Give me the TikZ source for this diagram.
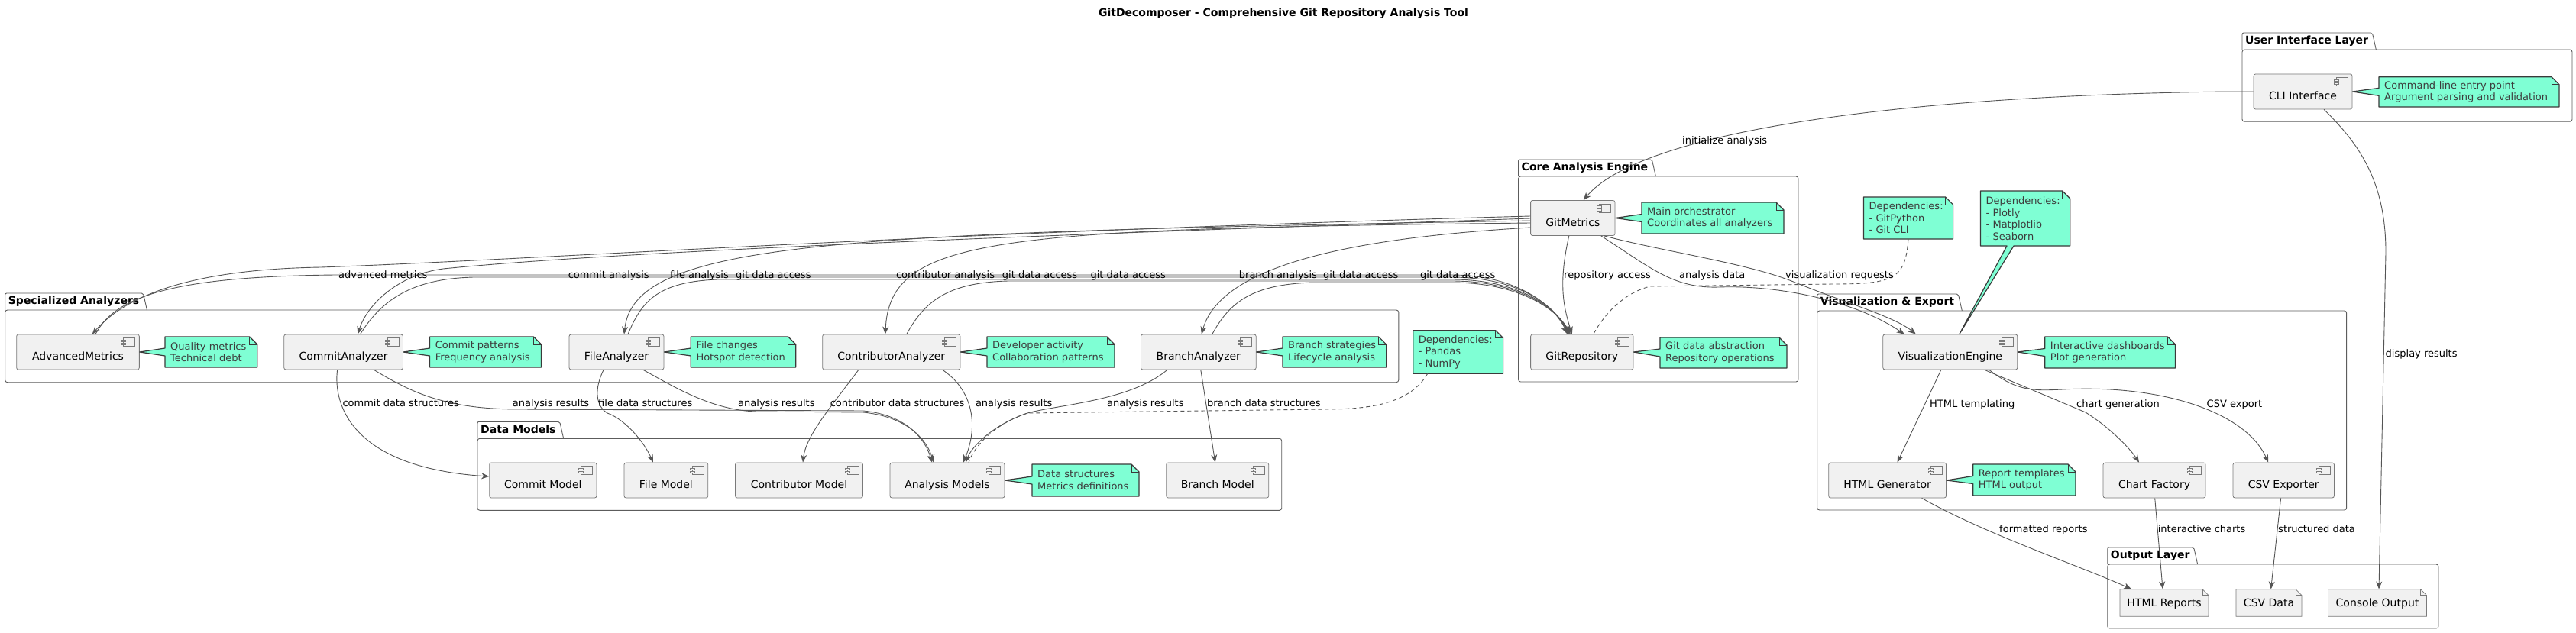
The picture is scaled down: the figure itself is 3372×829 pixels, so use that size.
\documentclass[tikz,border=0pt]{standalone}
\usepackage{fontspec}
\setmainfont{DejaVu Sans}
\usetikzlibrary{arrows.meta,calc}
\definecolor{compfill}{HTML}{F1F1F1}
\definecolor{compdraw}{HTML}{7A7A7A}
\definecolor{pkgdraw}{HTML}{5C5C5C}
\definecolor{notefill}{HTML}{7FFFD4}
\definecolor{notedraw}{HTML}{3A3A3A}
\definecolor{notetextc}{HTML}{3C3C3C}
\definecolor{linec}{HTML}{555555}
\tikzset{
  comp/.style={draw=compdraw, fill=compfill, line width=0.8pt, rounded corners=2.5pt, inner sep=0pt, font=\fontsize{14}{16}\selectfont, text height=21pt, text depth=0pt},
  fileshape/.style={draw=compdraw, fill=compfill, line width=0.8pt},
  filetext/.style={inner sep=0pt, font=\fontsize{14}{16}\selectfont, text height=10.5pt, text depth=0pt},
  icon/.style={draw=compdraw, fill=compfill, line width=0.6pt},
  pkglabel/.style={anchor=west, inner sep=0pt, font=\bfseries\fontsize{14}{16}\selectfont, text height=10.5pt, text depth=3pt},
  pkgline/.style={draw=pkgdraw, line width=0.9pt},
  noteshape/.style={draw=notedraw, fill=notefill, line width=1.2pt, line join=round},
  notefold/.style={draw=notedraw, line width=1pt},
  notetext/.style={anchor=west, align=left, inner sep=0pt, text=notetextc, font=\fontsize{13}{15.5}\selectfont},
  edge/.style={draw=linec, line width=0.9pt, -{Stealth[length=10pt,width=8pt,inset=3pt]}},
  dedge/.style={draw=linec, line width=0.9pt, dash pattern=on 5pt off 4pt},
  elabel/.style={anchor=west, inner sep=0pt, font=\fontsize{13}{15}\selectfont, text height=10pt, text depth=0pt},
}
\newcommand{\compicon}[1]{%
  \draw[icon] ($(#1.north east)+(-21,5)$) rectangle ($(#1.north east)+(-6,16)$);
  \draw[icon] ($(#1.north east)+(-24,7.5)$) rectangle ($(#1.north east)+(-18,10)$);
  \draw[icon] ($(#1.north east)+(-24,11.5)$) rectangle ($(#1.north east)+(-18,14)$);
}
\newcommand{\comp}[5]{\node[comp, minimum width=#4pt, minimum height=46pt] (#1) at (#2,#3) {#5};\compicon{#1}}
\newcommand{\filebox}[6]{%
  \draw[fileshape] ({#2-#4/2},{#3-#5/2}) -- ({#2+#4/2-8},{#3-#5/2}) -- ({#2+#4/2},{#3-#5/2+8}) -- ({#2+#4/2},{#3+#5/2}) -- ({#2-#4/2},{#3+#5/2}) -- cycle;
  \draw[fileshape, fill=none] ({#2+#4/2-8},{#3-#5/2}) -- ({#2+#4/2-8},{#3-#5/2+8}) -- ({#2+#4/2},{#3-#5/2+8});
  \node[filetext, minimum width=#4pt, minimum height=#5pt] (#1) at (#2,#3) {#6};
}
\newcommand{\pkg}[6]{%
  \node[pkglabel] (#1) at ({#2+4},{#3-11}) {#6};
  \draw[pkgline, rounded corners=2pt] (#2,#3) -- (#2,{#3-22}) -- ($(#1.east)+(5,-11)$) -- ($(#1.east)+(10,11)$);
  \draw[pkgline, rounded corners=3pt] (#2,#3) rectangle (#4,#5);
}
\newcommand{\notew}[7]{%
  \draw[noteshape] (#2,#3) -- ({#4-10},#3) -- (#4,{#3+10}) -- (#4,#5) -- (#2,#5) -- (#2,{(#3+#5)/2+5}) -- (#6) -- (#2,{(#3+#5)/2-5}) -- cycle;
  \draw[notefold] ({#4-10},#3) -- ({#4-10},{#3+10}) -- (#4,{#3+10});
  \node[notetext] (#1) at ({#2+7},{(#3+#5)/2}) {#7};
}
\newcommand{\notep}[6]{%
  \draw[noteshape] (#2,#3) -- ({#4-10},#3) -- (#4,{#3+10}) -- (#4,#5) -- (#2,#5) -- cycle;
  \draw[notefold] ({#4-10},#3) -- ({#4-10},{#3+10}) -- (#4,{#3+10});
  \node[notetext] (#1) at ({#2+7},{(#3+#5)/2}) {#6};
}
\begin{document}
\begin{tikzpicture}[x=1pt,y=-1pt]
\fill[white] (0,0) rectangle (3372,829);
\useasboundingbox (0,0) rectangle (3372,829);

\node[font=\bfseries\fontsize{14}{16}\selectfont] (title) at (1680,18) {GitDecomposer - Comprehensive Git Repository Analysis Tool};

% packages
\pkg{p-ui}{2935}{65}{3367}{159.3}{User Interface Layer}
\pkg{p-core}{1987.5}{231}{2354}{500}{Core Analysis Engine}
\pkg{p-spec}{6.7}{406}{1830.8}{500.7}{Specialized Analyzers}
\pkg{p-dm}{625}{574.3}{1677.7}{668.3}{Data Models}
\pkg{p-viz}{2378.7}{407}{3071.6}{668}{Visualization \& Export}
\pkg{p-out}{2758.7}{739}{3192}{823}{Output Layer}

% components
\comp{cli}{3014.5}{120}{129}{CLI Interface}
\comp{gm}{2058.8}{285.5}{110.4}{GitMetrics}
\comp{gr}{2070.8}{461}{134.4}{GitRepository}
\comp{am}{102}{461}{160.7}{AdvancedMetrics}
\comp{ca}{449.6}{461}{155.7}{CommitAnalyzer}
\comp{fa}{807}{461}{124}{FileAnalyzer}
\comp{cta}{1166.8}{461}{180.3}{ContributorAnalyzer}
\comp{ba}{1568.8}{461}{150.8}{BranchAnalyzer}
\comp{cm}{710.8}{629}{140.3}{Commit Model}
\comp{fm}{871.9}{629}{109.8}{File Model}
\comp{ctm}{1046}{629}{167}{Contributor Model}
\comp{anm}{1240}{629}{150}{Analysis Models}
\comp{bm}{1593.7}{629}{134}{Branch Model}
\comp{ve}{2552.8}{461}{176}{VisualizationEngine}
\comp{hg}{2470.6}{629}{153.8}{HTML Generator}
\comp{cf}{2820}{629}{134}{Chart Factory}
\comp{ce}{2989.2}{629}{132.4}{CSV Exporter}
\filebox{hr}{2833}{789.5}{116}{35.6}{HTML Reports}
\filebox{cd}{2970}{789.5}{86}{35.6}{CSV Data}
\filebox{co}{3112}{789.5}{129}{35.6}{Console Output}

% notes
\notew{n-cli}{3114}{100.7}{3350}{140}{cli.east}{Command-line entry point\\Argument parsing and validation}
\notew{n-gm}{2149}{265}{2335}{306}{gm.east}{Main orchestrator\\Coordinates all analyzers}
\notew{n-gr}{2173}{442}{2339}{482}{gr.east}{Git data abstraction\\Repository operations}
\notew{n-am}{216}{441}{336.7}{481}{am.east}{Quality metrics\\Technical debt}
\notew{n-ca}{562.6}{441}{708.5}{481}{ca.east}{Commit patterns\\Frequency analysis}
\notew{n-fa}{904.3}{441}{1041.7}{481}{fa.east}{File changes\\Hotspot detection}
\notew{n-cta}{1292}{441}{1459}{481}{cta.east}{Developer activity\\Collaboration patterns}
\notew{n-ba}{1679}{441}{1814.6}{481}{ba.east}{Branch strategies\\Lifecycle analysis}
\notew{n-anm}{1351}{608}{1491}{650}{anm.east}{Data structures\\Metrics definitions}
\notew{n-ve}{2676.7}{441}{2847.4}{482}{ve.east}{Interactive dashboards\\Plot generation}
\notew{n-hg}{2582.7}{608}{2717}{649}{hg.east}{Report templates\\HTML output}
\notep{n-pd}{1849.7}{432.7}{1967.6}{489.3}{Dependencies:\\- Pandas\\- NumPy}
\notep{n-gp}{2439.5}{258}{2556.6}{313}{Dependencies:\\- GitPython\\- Git CLI}
\draw[noteshape] (2592.5,250) -- (2699.7,250) -- (2709.7,260) -- (2709.7,322) -- (2636,322) -- ($(ve.north)+(12,0)$) -- (2627,322) -- (2592.5,322) -- cycle;
\draw[notefold] (2699.7,250) -- (2699.7,260) -- (2709.7,260);
\node[notetext] (n-pl) at (2599.5,286) {Dependencies:\\- Plotly\\- Matplotlib\\- Seaborn};
\coordinate (n-pd-b) at (1868.7,489.3);
\coordinate (n-gp-b) at (2498,313);

% note connectors
\draw[dedge] (n-pd-b) .. controls (1845,530) and (1790,536) .. (1734,536) -- (1345,541) .. controls (1300,556) and (1275,585) .. ($(anm.north)+(28,0)$);
\draw[dedge] (n-gp-b) .. controls (2494,365) and (2480,372) .. (2400,372) -- (2160,375) .. controls (2120,385) and (2095,420) .. ($(gr.north)+(15,0)$);

% CLI edges
\draw[edge] (cli.west) -- (2915,120) .. controls (2500,125) and (2150,170) .. ($(gm.north)+(14,0)$);
\draw[edge] ($(cli.south)+(27.5,0)$) .. controls (3090,190) and (3123,240) .. (3123,330) -- ($(co.north)+(2,0)$);

% core edges
\draw[edge] ($(gm.south)+(-5,0)$) .. controls (2040,370) and (2046,400) .. ($(gr.north)+(-13,0)$);
\draw[edge] ($(gm.south)+(37,0)$) .. controls (2160,350) and (2190,378) .. (2250,376) .. controls (2330,373) and (2430,395) .. ($(ve.north)+(-60,0)$);
\draw[edge] ($(gm.south)+(41,0)$) .. controls (2180,330) and (2290,345) .. (2350,370) .. controls (2420,398) and (2480,415) .. ($(ve.north)+(-45,0)$);

% GitMetrics -> analyzers
\draw[edge] ($(gm.west)+(0,-2.5)$) .. controls (1200,305) and (700,340) .. (420,350) .. controls (300,352) and (180,370) .. ($(am.north)+(18.7,0)$);
\draw[edge] ($(gm.west)+(0,0.5)$) .. controls (1300,310) and (800,330) .. (580,352) .. controls (520,360) and (480,400) .. ($(ca.north)+(18.7,0)$);
\draw[edge] ($(gm.west)+(0,3.5)$) .. controls (1100,305) and (830,315) .. ($(fa.north)+(10,0)$);
\draw[edge] ($(gm.west)+(0,6.5)$) .. controls (1300,300) and (1165,310) .. ($(cta.north)+(-8,0)$);
\draw[edge] ($(gm.west)+(0,12.5)$) .. controls (1800,310) and (1600,340) .. ($(ba.north)+(4,0)$);

% analyzers -> GitRepository
\draw[edge] ($(am.north)+(23,0)$) .. controls (150,390) and (220,362) .. (440,360) -- (1900,360) .. controls (1985,360) and (2035,400) .. ($(gr.north)+(-19,0)$);
\draw[edge] ($(ca.north)+(22,0)$) .. controls (500,392) and (540,365) .. (620,363) -- (1900,363) .. controls (1987,363) and (2036,400) .. ($(gr.north)+(-18,0)$);
\draw[edge] ($(fa.north)+(15,0)$) .. controls (840,395) and (860,369) .. (940,366) -- (1900,366) .. controls (1988,366) and (2037,402) .. ($(gr.north)+(-17,0)$);
\draw[edge] ($(cta.north)+(20,0)$) .. controls (1210,395) and (1240,370) .. (1320,368) -- (1900,368) .. controls (1989,368) and (2038,404) .. ($(gr.north)+(-16,0)$);
\draw[edge] ($(ba.north)+(18,0)$) .. controls (1610,395) and (1640,372) .. (1720,370) -- (1900,370) .. controls (1990,370) and (2039,406) .. ($(gr.north)+(-15,0)$);

% analyzers -> data models
\draw[edge] ($(ca.south)+(-8,0)$) .. controls (436,530) and (460,612) .. ($(cm.west)+(0,-5)$);
\draw[edge] ($(ca.south)+(40,0)$) .. controls (540,515) and (585,536) .. (680,536) -- (1130,538) .. controls (1190,544) and (1212,578) .. ($(anm.north)+(-20,0)$);
\draw[edge] ($(fa.south)+(-17,0)$) .. controls (772,522) and (788,540) .. (800,543) .. controls (826,556) and (846,585) .. ($(fm.north)+(-17,0)$);
\draw[edge] ($(fa.south)+(35,0)$) .. controls (880,505) and (930,537) .. (990,539) -- (1130,540) .. controls (1190,546) and (1214,578) .. ($(anm.north)+(-18,0)$);
\draw[edge] ($(cta.south)+(-43,0)$) .. controls (1090,530) and (1055,570) .. ($(ctm.north)+(5,0)$);
\draw[edge] ($(cta.south)+(67,0)$) .. controls (1272,510) and (1282,555) .. ($(anm.north)+(21,0)$);
\draw[edge] ($(ba.south)+(-41,0)$) .. controls (1480,525) and (1385,530) .. (1345,541) .. controls (1300,556) and (1272,585) .. ($(anm.north)+(24,0)$);
\draw[edge] ($(ba.south)+(3,0)$) -- ($(bm.north)+(-3,0)$);

% visualization edges
\draw[edge] ($(ve.south)+(-12,0)$) -- ($(hg.north)+(13,0)$);
\draw[edge] ($(ve.south)+(45,0)$) -- (2730,540) .. controls (2765,562) and (2790,590) .. ($(cf.north)+(-20,0)$);
\draw[edge] ($(ve.south)+(51,0)$) .. controls (2640,512) and (2660,512) .. (2700,510) .. controls (2830,503) and (2940,540) .. ($(ce.north)+(-20,0)$);
\draw[edge] ($(hg.south)+(45,0)$) .. controls (2600,700) and (2720,740) .. ($(hr.north)+(-43,0)$);
\draw[edge] ($(cf.south)+(0.7,0)$) -- ($(hr.north)+(-2,0)$);
\draw[edge] ($(ce.south)+(-3.6,0)$) -- ($(cd.north)+(2.6,0)$);

% edge labels
\node[elabel] (l1) at (2202,184) {initialize analysis};
\node[elabel] (l2) at (3122.5,462) {display results};
\node[elabel] (l3) at (2047,359) {repository access};
\node[elabel] (l4) at (2198,359) {analysis data};
\node[elabel] (l5) at (2337,359) {visualization requests};
\node[elabel] (l6) at (443,359) {advanced metrics};
\node[elabel] (l7) at (743.6,359) {commit analysis};
\node[elabel] (l8) at (877,359) {file analysis};
\node[elabel] (l9) at (963,359) {git data access};
\node[elabel] (l10) at (1172.8,359) {contributor analysis};
\node[elabel] (l11) at (1311.7,359) {git data access};
\node[elabel] (l12) at (1427.4,359) {git data access};
\node[elabel] (l13) at (1621.7,359) {branch analysis};
\node[elabel] (l14) at (1731.9,359) {git data access};
\node[elabel] (l15) at (1858.8,359) {git data access};
\node[elabel] (l16) at (448.3,527.5) {commit data structures};
\node[elabel] (l17) at (670.7,527.5) {analysis results};
\node[elabel] (l18) at (783,527.5) {file data structures};
\node[elabel] (l19) at (966,527.5) {analysis results};
\node[elabel] (l20) at (1086.6,527.5) {contributor data structures};
\node[elabel] (l21) at (1276.8,527.5) {analysis results};
\node[elabel] (l22) at (1449,527.5) {analysis results};
\node[elabel] (l23) at (1580,527.5) {branch data structures};
\node[elabel] (l24) at (2526,528) {HTML templating};
\node[elabel] (l25) at (2718,528) {chart generation};
\node[elabel] (l26) at (2888.5,528) {CSV export};
\node[elabel] (l27) at (2617,692) {formatted reports};
\node[elabel] (l28) at (2824.6,692) {interactive charts};
\node[elabel] (l29) at (2982,692) {structured data};
\end{tikzpicture}
\end{document}
